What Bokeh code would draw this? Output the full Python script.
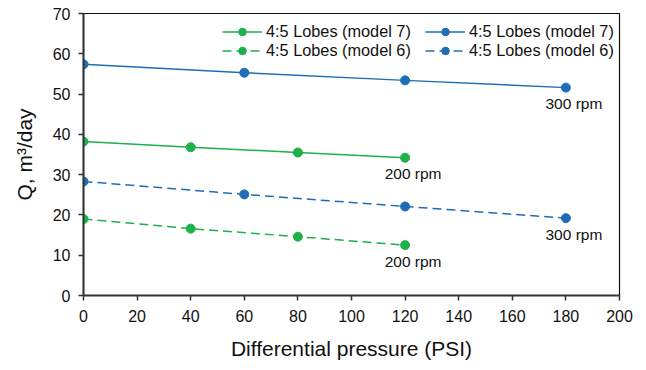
from bokeh.plotting import figure
from bokeh.models import Legend, LegendItem, FixedTicker, Range1d, ColumnDataSource
from bokeh.core.properties import value
from bokeh.embed import file_html
from bokeh.resources import INLINE

# Data
x_m7_200 = [0, 40, 80, 120]
y_m7_200 = [38.2, 36.8, 35.5, 34.2]
x_m7_300 = [0, 60, 120, 180]
y_m7_300 = [57.4, 55.3, 53.4, 51.6]
x_m6_200 = [0, 40, 80, 120]
y_m6_200 = [19.0, 16.6, 14.6, 12.5]
x_m6_300 = [0, 60, 120, 180]
y_m6_300 = [28.3, 25.1, 22.1, 19.2]
series_labels = ["4:5 Lobes (model 7)", "4:5 Lobes (model 6)"]
speed_labels = ["300 rpm", "200 rpm", "300 rpm", "200 rpm"]
x_ticks = [0, 20, 40, 60, 80, 100, 120, 140, 160, 180, 200]
y_ticks = [0, 10, 20, 30, 40, 50, 60, 70]

GREEN = "#1db04b"
BLUE = "#1f6db5"
FONT = "Liberation Sans"

p = figure(width=646, height=370, output_backend="svg", toolbar_location=None,
           x_range=Range1d(0, 200), y_range=Range1d(0, 70),
           min_border_left=83, min_border_right=27, min_border_top=13, min_border_bottom=75)
p.grid.visible = False
p.outline_line_color = "#111111"
p.outline_line_width = 1.2

for ax in (p.xaxis[0], p.yaxis[0]):
    ax.axis_line_color = "#333333"
    ax.axis_line_width = 2
    ax.major_tick_line_color = "#333333"
    ax.major_tick_line_width = 1.5
    ax.major_tick_out = 5
    ax.major_tick_in = 0
    ax.minor_tick_line_color = None
    ax.major_label_text_font = FONT
    ax.major_label_text_font_size = "16px"
    ax.major_label_text_color = "#111111"
    ax.axis_label_text_font = FONT
    ax.axis_label_text_font_size = "21px"
    ax.axis_label_text_font_style = "normal"
    ax.axis_label_text_color = "#111111"

p.xaxis.ticker = FixedTicker(ticks=x_ticks)
p.yaxis.ticker = FixedTicker(ticks=y_ticks)
p.xaxis.axis_label = "Differential pressure (PSI)"
p.yaxis.axis_label = "Q, m³/day"
p.xaxis.major_label_standoff = 9
p.yaxis.major_label_standoff = 8
p.xaxis.axis_label_standoff = 12
p.yaxis.axis_label_standoff = 14

def series(xs, ys, color, dash):
    r1 = p.line(xs, ys, line_color=color, line_width=1.5, line_dash=dash)
    r2 = p.scatter(xs, ys, size=9, fill_color=color, line_color=color)
    return [r1, r2]

g7 = series(x_m7_200, y_m7_200, GREEN, "solid")
g6 = series(x_m6_200, y_m6_200, GREEN, "9 5")
b7 = series(x_m7_300, y_m7_300, BLUE, "solid")
b6 = series(x_m6_300, y_m6_300, BLUE, "9 5")

# annotations at last point of each series
lab_src = ColumnDataSource(dict(
    x=[x_m7_300[-1], x_m7_200[-1], x_m6_300[-1], x_m6_200[-1]],
    y=[y_m7_300[-1], y_m7_200[-1], y_m6_300[-1], y_m6_200[-1]],
    t=speed_labels))
p.text(x="x", y="y", text="t", source=lab_src, x_offset=8, y_offset=16,
       text_align="center", text_baseline="middle", text_font=value(FONT),
       text_font_size="15.5px", text_color="#111111")

def make_legend(items, x, y):
    lg = Legend(items=items, location=(x, y), orientation="vertical")
    lg.label_text_font = FONT
    lg.label_text_font_size = "16.3px"
    lg.label_text_color = "#111111"
    lg.glyph_width = 40
    lg.glyph_height = 19
    lg.label_height = 19
    lg.label_standoff = 4
    lg.spacing = 0
    lg.padding = 0
    lg.margin = 0
    lg.border_line_alpha = 0
    lg.background_fill_alpha = 0
    p.add_layout(lg)

make_legend([LegendItem(label=series_labels[0], renderers=g7),
             LegendItem(label=series_labels[1], renderers=g6)], 139, 235)
make_legend([LegendItem(label=series_labels[0], renderers=b7),
             LegendItem(label=series_labels[1], renderers=b6)], 342, 235)

open("out.html", "w").write(file_html(p, INLINE))
